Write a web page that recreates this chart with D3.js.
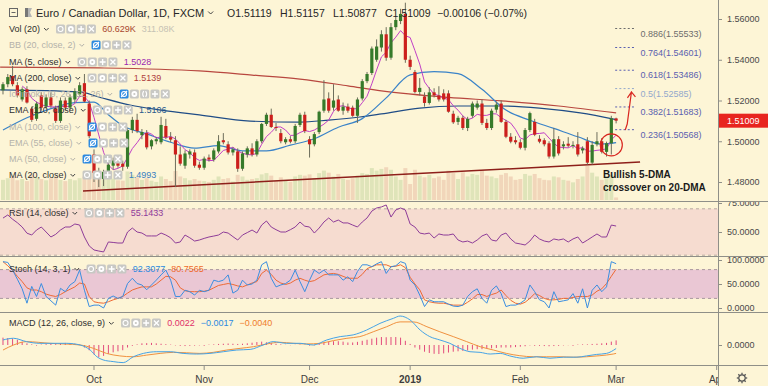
<!DOCTYPE html>
<html>
<head>
<meta charset="utf-8">
<script src="https://cdn.jsdelivr.net/npm/d3@7"></script>
<style>
  body { margin: 0; background: #fdf5d6; }
  svg { display: block; font-family: "Liberation Sans", Arial, sans-serif; }
</style>
</head>
<body>
<div id="chart"></div>
<script>
// ---- data (daily EUR/CAD, first bar 2018-09-04, weekdays only) ----
const startDate = "2018-09-04";

const opens = [1.5250,1.5280,1.5320,1.5275,1.5205,1.5255,1.5160,1.5110,1.5225,1.5170,
  1.5215,1.5160,1.5100,1.5200,1.5165,1.5205,1.5230,1.5285,1.5185,1.4935,
  1.4850,1.4815,1.4850,1.4880,1.4900,1.4890,1.4875,1.5055,1.5105,1.5030,
  1.5040,1.4975,1.5000,1.4995,1.5075,1.5020,1.5005,1.4935,1.4880,1.4935,
  1.4945,1.4885,1.4870,1.4920,1.4910,1.4950,1.5005,1.4985,1.4945,1.4950,
  1.4865,1.4935,1.4965,1.4935,1.5000,1.5085,1.5130,1.5070,1.5040,1.4995,
  1.5010,1.5000,1.5080,1.5130,1.5010,1.4985,1.5045,1.5150,1.5210,1.5165,
  1.5205,1.5150,1.5170,1.5165,1.5125,1.5210,1.5295,1.5335,1.5400,1.5460,
  1.5525,1.5410,1.5560,1.5590,1.5625,1.5400,1.5340,1.5242,1.5220,1.5188,
  1.5240,1.5225,1.5235,1.5235,1.5135,1.5095,1.5115,1.5065,1.5125,1.5165,
  1.5185,1.5090,1.5065,1.5155,1.5185,1.5095,1.5022,1.5005,1.4995,1.4968,
  1.5055,1.5095,1.5012,1.5005,1.4990,1.4925,1.5010,1.4975,1.4988,1.4978,
  1.4985,1.4955,1.5000,1.4895,1.4985,1.5000,1.4948,1.4990,1.51119];
const highs = [1.5290,1.5330,1.5370,1.5290,1.5265,1.5270,1.5170,1.5195,1.5240,1.5230,
  1.5240,1.5175,1.5215,1.5215,1.5230,1.5260,1.5290,1.5330,1.5200,1.4960,
  1.4870,1.4860,1.4900,1.4920,1.4920,1.4905,1.5065,1.5120,1.5135,1.5060,
  1.5055,1.5010,1.5020,1.5120,1.5110,1.5045,1.5025,1.4975,1.4955,1.4960,
  1.4960,1.4900,1.4925,1.4935,1.4965,1.5030,1.5040,1.5000,1.4970,1.4965,
  1.4950,1.4975,1.4990,1.5010,1.5090,1.5140,1.5160,1.5090,1.5060,1.5020,
  1.5025,1.5085,1.5140,1.5145,1.5025,1.5045,1.5150,1.5300,1.5240,1.5280,
  1.5225,1.5190,1.5185,1.5175,1.5215,1.5305,1.5340,1.5465,1.5500,1.5545,
  1.5560,1.5580,1.5610,1.5650,1.5680,1.5420,1.5350,1.5310,1.5240,1.5265,
  1.5260,1.5270,1.5255,1.5250,1.5150,1.5125,1.5125,1.5120,1.5195,1.5200,
  1.5205,1.5110,1.5160,1.5195,1.5200,1.5105,1.5040,1.5025,1.5010,1.5065,
  1.5145,1.5110,1.5030,1.5015,1.5000,1.5065,1.5025,1.5000,1.5020,1.5000,
  1.5045,1.4975,1.5020,1.5000,1.5045,1.5015,1.4998,1.5125,1.51157];
const lows = [1.5230,1.5265,1.5270,1.5215,1.5195,1.5185,1.5095,1.5100,1.5150,1.5160,
  1.5165,1.5090,1.5090,1.5150,1.5155,1.5190,1.5220,1.5190,1.5015,1.4800,
  1.4775,1.4780,1.4830,1.4860,1.4870,1.4855,1.4865,1.5040,1.5040,1.5010,
  1.4960,1.4960,1.4985,1.4985,1.5010,1.4995,1.4775,1.4880,1.4865,1.4915,
  1.4870,1.4860,1.4860,1.4900,1.4900,1.4940,1.4985,1.4935,1.4930,1.4850,
  1.4855,1.4920,1.4925,1.4925,1.4990,1.5075,1.5065,1.5050,1.4990,1.4985,
  1.4990,1.4990,1.5070,1.5040,1.4920,1.4975,1.5035,1.5140,1.5140,1.5150,
  1.5145,1.5130,1.5140,1.5120,1.5090,1.5200,1.5285,1.5325,1.5390,1.5440,
  1.5395,1.5400,1.5545,1.5575,1.5385,1.5350,1.5235,1.5225,1.5170,1.5180,
  1.5215,1.5195,1.5195,1.5140,1.5085,1.5080,1.5055,1.5050,1.5115,1.5155,
  1.5080,1.5055,1.5055,1.5140,1.5090,1.5015,1.4990,1.4985,1.4960,1.4955,
  1.5045,1.5025,1.4990,1.4975,1.4915,1.4915,1.4930,1.4960,1.4970,1.4965,
  1.4925,1.4940,1.4885,1.4885,1.4975,1.4940,1.4925,1.4935,1.50877];
const closes = [1.5280,1.5315,1.5280,1.5225,1.5255,1.5190,1.5105,1.5185,1.5165,1.5215,
  1.5175,1.5100,1.5200,1.5165,1.5215,1.5245,1.5275,1.5195,1.5025,1.4845,
  1.4815,1.4850,1.4885,1.4905,1.4880,1.4875,1.5055,1.5105,1.5050,1.5045,
  1.4970,1.5005,1.5010,1.5080,1.5020,1.5008,1.4935,1.4890,1.4940,1.4950,
  1.4880,1.4870,1.4915,1.4910,1.4955,1.5000,1.4995,1.4945,1.4960,1.4865,
  1.4940,1.4965,1.4935,1.5000,1.5085,1.5130,1.5070,1.5065,1.5000,1.5010,
  1.4998,1.5075,1.5130,1.5050,1.4985,1.5035,1.5145,1.5205,1.5150,1.5200,
  1.5150,1.5170,1.5150,1.5125,1.5205,1.5295,1.5330,1.5455,1.5465,1.5525,
  1.5410,1.5560,1.5595,1.5625,1.5400,1.5365,1.5242,1.5262,1.5188,1.5240,
  1.5225,1.5205,1.5205,1.5145,1.5093,1.5115,1.5065,1.5110,1.5185,1.5185,
  1.5090,1.5065,1.5150,1.5180,1.5095,1.5022,1.4998,1.4995,1.4968,1.5055,
  1.5138,1.5032,1.4998,1.4985,1.4925,1.5010,1.4940,1.4985,1.4978,1.4982,
  1.4935,1.4965,1.4895,1.4982,1.5000,1.4948,1.4990,1.5112,1.51009];
const volumes = [480,520,560,470,500,450,610,540,500,470,
  520,560,480,450,500,470,520,560,620,700,
  640,600,560,510,470,460,680,600,540,480,
  520,460,430,560,500,450,690,560,520,470,
  500,460,450,430,480,560,500,520,440,600,
  560,480,500,520,610,640,580,460,540,470,
  430,560,600,580,610,520,640,700,650,560,
  620,500,480,520,580,640,620,760,700,740,
  780,720,560,480,760,380,720,580,540,600,
  520,560,480,700,640,500,660,560,620,600,
  700,580,560,520,600,640,560,480,500,620,
  580,620,520,480,470,560,540,480,460,420,
  500,560,820,650,560,480,520,600,60.629];

// moving averages: [bar index, price]
const ma20Pts = [[0,1.5055],[5,1.5115],[10,1.5160],[15,1.5190],[19,1.5192],[22,1.5130],[25,1.5076],
  [30,1.5036],[35,1.4995],[40,1.4966],[45,1.4979],[50,1.4953],[55,1.4953],[60,1.4981],[65,1.5012],
  [70,1.5069],[75,1.5111],[80,1.5213],[85,1.5326],[90,1.5342],[95,1.5332],[100,1.5255],[105,1.5153],
  [110,1.5103],[115,1.5063],[120,1.5022],[125,1.4986],[128,1.4993]];
const ema110Pts = [[-0.6,1.5252],[16,1.5242],[20,1.5217],[26.5,1.5178],[33,1.5153],[41,1.5129],
  [51.6,1.5099],[62,1.5094],[68,1.5104],[74.5,1.5119],[79,1.5134],[87,1.5163],[95,1.5173],
  [104,1.5173],[112,1.5163],[120.5,1.5139],[128,1.5106]];
const ma200Pts = [[-0.6,1.5364],[20,1.5360],[41,1.5345],[52,1.5325],[62,1.5305],[72,1.5272],
  [79,1.5247],[93,1.5215],[104,1.5198],[116,1.5173],[128,1.5139]];

const rsi = [62,64.7,61,58,54.3,49,47.4,51.7,54.3,50,
  45.7,48,51.7,54.3,54.3,56.9,56,45.7,38,34.5,
  33.6,32.8,41.4,41,40.5,40.5,50,53.4,50,49.1,
  46.6,46.6,46.6,49.1,47.4,45,40.5,41.4,47.4,45,
  42.2,43.1,44.5,45.7,46.5,47.4,50,49.1,46,43.1,
  47.4,49.5,51.7,49.1,56,59.5,54.3,52,50,50,
  52,54.3,58.6,55,54.3,49.1,53.4,58.6,62.1,58.6,
  60.3,57.8,57.8,56,54.3,58.6,62.1,68,70.7,71.6,
  73.3,62.9,69,70.7,69,56.9,54.3,49.1,48.3,49.1,
  44.8,48.3,47.4,47.4,48.3,43.1,41.4,42.2,40.5,43.1,
  46.6,48.3,43.1,42.2,47.4,49.1,44,40.5,39.7,38.8,
  42.2,47.4,44,42.2,41.4,44,43.1,44,41.4,44,
  45.7,40.5,43,45.7,48.3,45.7,45.7,56,55.1433];
const stochK = [96.5,95,79,60,40,10,45,24,51,24,
  15,6,41,34,48,55,79,37,3,6,
  6,0,20,25,20,24,51,62,51,48,
  38,48,58,69,79,58,24,24,37,34,
  27,37,34,37,58,55,58,69,31,37,
  58,48,50,58,90,96.5,62,44,48,51,
  58,79,55,34,58,79,72,79,69,69,
  69,58,65,55,76,90,90,86,92,96.5,
  72,86,88,96.5,93,58,48,27,3,17,
  13,13,13,8,4,3,6,24,34,40,
  20,10,37,46,30,3,6,6,10,17,
  48,34,17,13,0,34,13,15,17,30,
  10,40,0,37,48,34,44,96.5,92.3077];
const stochD = [96.5,88,78,66,55,42,37.5,37.5,34,29,
  26,24,28,34,39,44,52,50,24,13,
  11,10,13,17,20,24,31,37.5,41,44,
  44,44,50,58,66,65,58,42,36,34,
  34,34,35,37,42,47,49,51,49,46,
  44,48,52,55,72,79,70,58,52,49,
  52,58,62,58,55,57,63,69,71,72,
  70,66,62,62,62,70,82,86,90,90,
  90,86,87,90,84,64,50,38,17,13,
  11,10,10,8,6,6,6,12,19,28,
  28,24,28,31,37.5,26,16,10,8,12,
  20,30,26,20,17,17,18,20,20,22,
  24,24,24,27,35,40,51,66,80.7565];
const macdPts = [[0,0.0024],[2.2,0.0032],[4.9,0.0016],[7.7,0.0008],[13.3,0.0008],[16.1,0],[18.2,-0.0024],
  [19.6,-0.0056],[20.9,-0.0071],[23,-0.0079],[25.1,-0.0084],[27.2,-0.0056],[29.3,-0.004],[32.1,-0.0032],
  [34.9,-0.0032],[37.6,-0.004],[40.4,-0.0043],[43.2,-0.004],[46,-0.0032],[48.8,-0.0024],[51.6,-0.0021],
  [54.3,0],[56.4,0.0016],[59.2,0.0008],[62,0.0008],[64.8,0],[67.6,0.0024],[70.4,0.004],[73.1,0.0048],
  [75.9,0.0071],[78.7,0.0103],[81.5,0.0127],[82.9,0.0138],[85,0.0119],[87.1,0.0071],[89.1,0.004],
  [91.2,0.0024],[93.3,0.0008],[95.4,-0.0016],[97.5,-0.0032],[99.6,-0.0035],[101.7,-0.0043],[103.8,-0.004],
  [105.8,-0.0052],[108.6,-0.0063],[111.4,-0.0056],[114.2,-0.0063],[117,-0.0058],[119.8,-0.0058],
  [121.8,-0.0052],[123.9,-0.0045],[126,-0.004],[128,-0.0017]];
const signalPts = [[0,-0.0024],[2.2,0],[4.9,0.0016],[9.8,0.0008],[16.1,0],[18.9,-0.0016],[21.6,-0.004],
  [24.4,-0.0052],[27.2,-0.0056],[30,-0.0048],[32.8,-0.004],[35.6,-0.0035],[38.3,-0.0037],[41.1,-0.004],
  [43.9,-0.0035],[46.7,-0.0024],[49.5,-0.0016],[52.3,-0.0008],[55.1,0.0005],[57.8,0.0013],[60.6,0.0008],
  [63.4,0.0005],[66.2,0.0008],[69,0.0021],[71.8,0.0032],[74.5,0.004],[77.3,0.0063],[80.1,0.0087],
  [82.9,0.011],[85.7,0.011],[88.5,0.0087],[91.2,0.0063],[94,0.004],[96.8,0.0016],[99.6,-0.0008],
  [102.4,-0.0024],[105.1,-0.004],[107.9,-0.0051],[110.7,-0.0056],[113.5,-0.0056],[116.3,-0.0056],
  [119.1,-0.0058],[121.8,-0.0056],[124.6,-0.0051],[127.4,-0.0043],[128,-0.004]];
const macdHist = [0.0035,0.0033,0.003,0.0025,0.0015,0.0008,0.0003,-0.0003,0.0002,0.0004,
  0.0006,0.0004,0.0008,0.001,0.0009,0.0006,0.0002,-0.0012,-0.0025,-0.0045,
  -0.0057,-0.0052,-0.0042,-0.0035,-0.003,-0.0025,-0.0012,-0.0004,0.0003,0.0008,
  0.0009,0.001,0.0008,0.0006,0.0004,0.0002,-0.0002,-0.0004,-0.0005,-0.0004,
  -0.0003,-0.0002,0,0.0002,0.0003,0.0005,0.0006,0.0007,0.0006,0.0005,
  0.0006,0.0008,0.0011,0.0014,0.0016,0.0013,0.001,0.0006,0.0003,0.0001,
  -0.0001,0.0001,0.0002,0.0001,-0.0003,-0.0002,0.0006,0.0012,0.0016,0.0018,
  0.0018,0.0016,0.0012,0.0012,0.0015,0.002,0.0025,0.003,0.0035,0.0038,
  0.0037,0.0038,0.0038,0.0035,0.002,0.0005,-0.0012,-0.0022,-0.0032,-0.0038,
  -0.0042,-0.0043,-0.004,-0.0036,-0.0032,-0.003,-0.0028,-0.0026,-0.0022,-0.002,
  -0.002,-0.0018,-0.0016,-0.0014,-0.0012,-0.0012,-0.0012,-0.001,-0.0008,-0.0006,
  -0.0002,0,-0.0004,-0.0005,-0.0006,-0.0005,-0.0004,-0.0002,-0.0001,0,
  0.0002,0.0003,0.0003,0.0005,0.0006,0.0008,0.001,0.0016,0.0022];

// fibonacci extension levels
const fibRatios = ["0.236","0.382","0.5","0.618","0.764","0.886"];
const fibPrices = [1.50568,1.51683,1.52585,1.53486,1.54601,1.55533];
// support line and annotation anchors [bar index, price]
const trendLine = [[16.7,1.4756],[133,1.4898]];
const circleAt = [127,1.4982];
const arrowFromTo = [[129.9,1.5055],[131.2,1.5242]];

// axis labels
const priceTicks = [1.48,1.50,1.52,1.54,1.56];
const monthLabels = ["Oct","Nov","Dec","2019","Feb","Mar","Apr"];
const monthDates = ["2018-10-01","2018-11-01","2018-12-01","2019-01-01","2019-02-01","2019-03-01","2019-04-01"];

// ---- helpers ----
function barIndex(dateStr) {
  let d = new Date(startDate + "T00:00:00Z"), end = new Date(dateStr + "T00:00:00Z"), n = 0;
  while (d < end) { const wd = d.getUTCDay(); if (wd !== 0 && wd !== 6) n++; d.setUTCDate(d.getUTCDate() + 1); }
  return n;
}

const W = 768, H = 386, R = 718;
const x = d3.scaleLinear().domain([-0.626, 149.27]).range([0, R]);
const y = d3.scaleLinear().domain([1.48, 1.56]).range([182, 19]);
const yVol = d3.scaleLinear().domain([0, 1000]).range([200, 158]);
const yRsi = d3.scaleLinear().domain([30, 75]).range([255.2, 203]);
const ySto = d3.scaleLinear().domain([0, 100]).range([308, 260]);
const yMacd = d3.scaleLinear().domain([-0.01, 0.01]).range([366, 324]);

const svg = d3.select("#chart").append("svg").attr("width", W).attr("height", H);
svg.append("rect").attr("width", W).attr("height", H).attr("fill", "#fdf5d6");

const defs = svg.append("defs");
function clip(id, x0, y0, w, h) {
  defs.append("clipPath").attr("id", id).append("rect").attr("x", x0).attr("y", y0).attr("width", w).attr("height", h);
}
clip("cMain", 0, 0, R, 201);
clip("cRsi", 0, 202, R, 54);
clip("cSto", 0, 257, R, 55);
clip("cMacd", 0, 313, R, 52);
clip("cTime", 0, 366, R, 20);
clip("aMain", 0, 0, 50, 201);
clip("aRsi", 0, 202, 50, 54);
clip("aSto", 0, 257, 50, 55);
clip("aMacd", 0, 313, 50, 52);

const bars = closes.map((c, i) => ({ i, o: opens[i], h: highs[i], l: lows[i], c, v: volumes[i] }));

// ---- main pane ----
const main = svg.append("g").attr("clip-path", "url(#cMain)");

main.selectAll(".vol").data(bars).join("rect")
  .attr("x", d => x(d.i) - 2).attr("width", 4)
  .attr("y", d => yVol(d.v)).attr("height", d => yVol(0) - yVol(d.v))
  .attr("fill", d => d.c >= d.o ? "#dfe4b9" : "#f1d6ba");

main.append("line")
  .attr("x1", x(trendLine[0][0])).attr("y1", y(trendLine[0][1]))
  .attr("x2", x(trendLine[1][0])).attr("y2", y(trendLine[1][1]))
  .attr("stroke", "#8e1f1a").attr("stroke-width", 1.5);

const smooth = d3.line().x(d => x(d[0])).curve(d3.curveMonotoneX);
main.append("path").datum(ma200Pts).attr("d", smooth.y(d => y(d[1])))
  .attr("fill", "none").attr("stroke", "#b8473f").attr("stroke-width", 1.2);
main.append("path").datum(ema110Pts).attr("d", smooth.y(d => y(d[1])))
  .attr("fill", "none").attr("stroke", "#1f4c86").attr("stroke-width", 1.2);
main.append("path").datum(ma20Pts).attr("d", smooth.y(d => y(d[1])))
  .attr("fill", "none").attr("stroke", "#3a83c8").attr("stroke-width", 1.2);

// 5-day average of the closes
const ma5 = closes.map((c, i) => i < 4 ? null : d3.mean(closes.slice(i - 4, i + 1)));
main.append("path").datum(ma5)
  .attr("d", d3.line().defined(d => d != null).x((d, i) => x(i)).y(d => y(d)))
  .attr("fill", "none").attr("stroke", "#c13fc6").attr("stroke-width", 1);

main.selectAll(".wick").data(bars).join("line")
  .attr("x1", d => x(d.i)).attr("x2", d => x(d.i))
  .attr("y1", d => y(d.h)).attr("y2", d => y(d.l))
  .attr("stroke", "#6e6e5c").attr("stroke-width", 1);
main.selectAll(".body").data(bars).join("rect")
  .attr("x", d => x(d.i) - 1.6).attr("width", 3.2)
  .attr("y", d => y(Math.max(d.o, d.c)))
  .attr("height", d => Math.max(1, Math.abs(y(d.o) - y(d.c))))
  .attr("fill", d => d.c >= d.o ? "#367a2a" : "#cc1f1c");

// fibonacci levels
fibPrices.forEach((p, k) => {
  const col = fibRatios[k] === "0.886" ? "#6d6d6d" : fibRatios[k] === "0.5" ? "#93a8cc" : "#5a5fb0";
  main.append("line").attr("x1", x(127.8)).attr("x2", x(131.8)).attr("y1", y(p)).attr("y2", y(p))
    .attr("stroke", col).attr("stroke-dasharray", "2,2.2").attr("stroke-width", 1);
  main.append("text").attr("x", x(133.1)).attr("y", y(p) + 8)
    .attr("fill", col).style("font-size", "9px")
    .text(`${fibRatios[k]}(${p.toFixed(5)})`);
});

// annotations
main.append("circle").attr("cx", x(circleAt[0])).attr("cy", y(circleAt[1])).attr("r", 11)
  .attr("fill", "none").attr("stroke", "#d9261f").attr("stroke-width", 1.2);
const a0 = [x(arrowFromTo[0][0]), y(arrowFromTo[0][1])], a1 = [x(arrowFromTo[1][0]), y(arrowFromTo[1][1])];
main.append("path")
  .attr("d", `M${a0[0]},${a0[1]} L${a0[0] + 2},${a0[1] - 6} L${a1[0]},${a1[1]} M${a1[0] - 4},${a1[1] + 6} L${a1[0]},${a1[1]} L${a1[0] + 4},${a1[1] + 5}`)
  .attr("fill", "none").attr("stroke", "#d9261f").attr("stroke-width", 1.2);
main.append("text").attr("x", 603).attr("y", 178).attr("fill", "#1a1a1a")
  .style("font-size", "10px").style("font-weight", "bold").text("Bullish 5-DMA");
main.append("text").attr("x", 603).attr("y", 191).attr("fill", "#1a1a1a")
  .style("font-size", "10px").style("font-weight", "bold").text("crossover on 20-DMA");

// ---- RSI pane ----
const rp = svg.append("g").attr("clip-path", "url(#cRsi)");
rp.append("rect").attr("x", 0).attr("width", R).attr("y", yRsi(70)).attr("height", yRsi(30) - yRsi(70)).attr("fill", "#f6dcd0");
[70, 30].forEach(v => rp.append("line").attr("x1", 0).attr("x2", R).attr("y1", yRsi(v)).attr("y2", yRsi(v))
  .attr("stroke", "#b8aaa2").attr("stroke-dasharray", "3,3"));
rp.append("path").datum(rsi).attr("d", d3.line().x((d, i) => x(i)).y(d => yRsi(d)))
  .attr("fill", "none").attr("stroke", "#8e3c98").attr("stroke-width", 1);

// ---- Stoch pane ----
const sp = svg.append("g").attr("clip-path", "url(#cSto)");
sp.append("rect").attr("x", 0).attr("width", R).attr("y", ySto(80)).attr("height", ySto(20) - ySto(80)).attr("fill", "#eac7d4");
[80, 20].forEach(v => sp.append("line").attr("x1", 0).attr("x2", R).attr("y1", ySto(v)).attr("y2", ySto(v))
  .attr("stroke", "#a8989e").attr("stroke-dasharray", "3,3"));
sp.append("path").datum(stochD).attr("d", d3.line().x((d, i) => x(i)).y(d => ySto(d)))
  .attr("fill", "none").attr("stroke", "#ee6a35").attr("stroke-width", 1);
sp.append("path").datum(stochK).attr("d", d3.line().x((d, i) => x(i)).y(d => ySto(d)))
  .attr("fill", "none").attr("stroke", "#3b8ee0").attr("stroke-width", 1);

// ---- MACD pane ----
const mp = svg.append("g").attr("clip-path", "url(#cMacd)");
mp.selectAll(".h").data(macdHist).join("line")
  .attr("x1", (d, i) => x(i)).attr("x2", (d, i) => x(i))
  .attr("y1", yMacd(0)).attr("y2", d => yMacd(d) + (d === 0 ? 0.8 : 0))
  .attr("stroke", "#e24a7c").attr("stroke-width", 1);
mp.append("path").datum(signalPts).attr("d", d3.line().x(d => x(d[0])).y(d => yMacd(d[1])).curve(d3.curveMonotoneX))
  .attr("fill", "none").attr("stroke", "#f0913f").attr("stroke-width", 1);
mp.append("path").datum(macdPts).attr("d", d3.line().x(d => x(d[0])).y(d => yMacd(d[1])).curve(d3.curveMonotoneX))
  .attr("fill", "none").attr("stroke", "#45a3e6").attr("stroke-width", 1);

// ---- separators ----
[201.5, 256.5, 312.5, 365.5].forEach(yy => svg.append("line").attr("x1", 0).attr("x2", W).attr("y1", yy).attr("y2", yy)
  .attr("stroke", "#8f8f88").attr("stroke-width", 1));
svg.append("line").attr("x1", R + 0.5).attr("x2", R + 0.5).attr("y1", 0).attr("y2", H).attr("stroke", "#8f8f88");

// ---- right axes ----
function rightAxis(scale, vals, fmt, clipId) {
  const g = svg.append("g").attr("transform", `translate(${R},0)`).attr("clip-path", `url(#${clipId})`)
    .call(d3.axisRight(scale).tickValues(vals).tickFormat(fmt).tickSize(4).tickPadding(5));
  g.select(".domain").remove();
  g.selectAll("line").attr("stroke", "#8f8f88");
  g.selectAll("text").attr("fill", "#4a4a4a").style("font-size", "9px").style("font-family", "Liberation Sans, Arial, sans-serif");
}
rightAxis(y, priceTicks, d3.format(".5f"), "aMain");
rightAxis(yRsi, [50, 75], d3.format(".4f"), "aRsi");
rightAxis(ySto, [0, 50, 100], d3.format(".4f"), "aSto");
rightAxis(yMacd, [0], d3.format(".4f"), "aMacd");

// last price tag
const last = closes[closes.length - 1];
svg.append("rect").attr("x", R + 1).attr("y", y(last) - 7).attr("width", W - R - 1).attr("height", 14).attr("fill", "#e8251f");
svg.append("text").attr("x", R + 9).attr("y", y(last) + 3.5).attr("fill", "#fff").style("font-size", "9px").text(last.toFixed(5));

// ---- time axis ----
const tg = svg.append("g").attr("clip-path", "url(#cTime)");
monthLabels.forEach((lab, k) => {
  const xi = x(barIndex(monthDates[k]));
  tg.append("line").attr("x1", xi).attr("x2", xi).attr("y1", 366).attr("y2", 370).attr("stroke", "#8f8f88");
  tg.append("text").attr("x", xi).attr("y", 383).attr("text-anchor", "middle")
    .attr("fill", "#3d3d3d").style("font-size", "10px").style("font-weight", lab === "2019" ? "bold" : "normal").text(lab);
});

// gear icon
const gear = svg.append("g").attr("transform", "translate(742,378)").attr("stroke", "#555").attr("fill", "none");
gear.append("circle").attr("r", 3.2).attr("stroke-width", 1.2);
d3.range(8).forEach(k => {
  const a = k * Math.PI / 4;
  gear.append("line").attr("x1", Math.cos(a) * 3.2).attr("y1", Math.sin(a) * 3.2)
    .attr("x2", Math.cos(a) * 5.2).attr("y2", Math.sin(a) * 5.2).attr("stroke-width", 1.3);
});

// ---- legends ----
const lg = svg.append("g");
function icon(kind, ix, yc, blue) {
  lg.append("rect").attr("x", ix).attr("y", yc - 4.5).attr("width", 9).attr("height", 9).attr("rx", 1.5)
    .attr("fill", blue ? "#2d8ae0" : "#c8c8c4");
  const s = lg.append("g").attr("stroke", "#fff").attr("fill", "none").attr("stroke-width", 1.1);
  const cx = ix + 4.5;
  if (kind === "eye") {
    s.append("circle").attr("cx", cx).attr("cy", yc).attr("r", 2.5);
    if (blue) s.append("line").attr("x1", cx - 3).attr("y1", yc + 3).attr("x2", cx + 3).attr("y2", yc - 3);
  } else if (kind === "gear") {
    s.append("circle").attr("cx", cx).attr("cy", yc).attr("r", 2).attr("stroke-width", 1.8);
  } else if (kind === "plus") {
    s.append("path").attr("d", `M${cx - 3},${yc} h6 M${cx},${yc - 3} v6`).attr("stroke-width", 1.4);
  } else if (kind === "x") {
    s.append("path").attr("d", `M${cx - 2.5},${yc - 2.5} l5,5 M${cx + 2.5},${yc - 2.5} l-5,5`).attr("stroke-width", 1.3);
  } else if (kind === "par") {
    s.append("path").attr("d", `M${cx - 1},${yc - 3} q-2,3 0,6 M${cx + 1},${yc - 3} q2,3 0,6`);
  }
}
function legendRow(r) {
  const t = lg.append("text").attr("x", 9).attr("y", r.y + 3.2).attr("fill", r.dim ? "#b4b2aa" : "#2e2e2e")
    .style("font-size", "9px").text(r.t);
  const end = 9 + t.node().getComputedTextLength();
  lg.append("path").attr("d", `M${end + 4},${r.y - 1} l2.3,2.3 l2.3,-2.3`)
    .attr("fill", "none").attr("stroke", r.dim ? "#b4b2aa" : "#444").attr("stroke-width", 1);
  const kinds = r.ic || ["eye", "gear", "plus", "x"];
  let ix = end + 16;
  kinds.forEach((k, j) => icon(k, ix + j * 10.3, r.y, r.dim && j === 0));
  let vx = ix + kinds.length * 10.3 + 5;
  (r.vals || []).forEach(([txt, col]) => {
    const vt = lg.append("text").attr("x", vx).attr("y", r.y + 3.2).attr("fill", col).style("font-size", "9px").text(txt);
    vx += vt.node().getComputedTextLength() + 6;
  });
}
[
  { t: "Vol (20)", y: 29, vals: [["60.629K", "#a9472f"], ["311.08K", "#c6c2b4"]] },
  { t: "BB (20, close, 2)", y: 45, dim: true },
  { t: "MA (5, close)", y: 62, vals: [["1.5028", "#9c27b0"]] },
  { t: "MA (200, close)", y: 78, vals: [["1.5139", "#b0413e"]] },
  { t: "Ichimoku (9, 26, 52, 26)", y: 94, dim: true, ic: ["eye", "gear", "par", "plus", "x"] },
  { t: "EMA (110, close)", y: 110, vals: [["1.5106", "#2a5a8c"]] },
  { t: "MA (100, close)", y: 127, dim: true },
  { t: "EMA (55, close)", y: 143, dim: true },
  { t: "MA (50, close)", y: 159, dim: true },
  { t: "MA (20, close)", y: 175, vals: [["1.4993", "#3a80c0"]] },
  { t: "RSI (14, close)", y: 213, vals: [["55.1433", "#8e3a9a"]] },
  { t: "Stoch (14, 3, 1)", y: 269, vals: [["92.3077", "#2a8ae0"], ["80.7565", "#ef6c2c"]] },
  { t: "MACD (12, 26, close, 9)", y: 323, vals: [["0.0022", "#e0306a"], ["\u22120.0017", "#2a8ae0"], ["\u22120.0040", "#ef7d2c"]] }
].forEach(legendRow);

// title row
lg.append("rect").attr("x", 9.5).attr("y", 8.5).attr("width", 8).attr("height", 8).attr("fill", "none").attr("stroke", "#666");
lg.append("line").attr("x1", 11.5).attr("x2", 15.5).attr("y1", 12.5).attr("y2", 12.5).attr("stroke", "#666");
lg.append("path").attr("d", "M25,8 h3 v9 h-3 z").attr("fill", "#777");
lg.append("path").attr("d", "M28,8 h4 l-2,4.5 l2,4.5 h-4 z").attr("fill", "#b5b5b5");
const title = lg.append("text").attr("x", 36).attr("y", 16.5).attr("fill", "#262626").style("font-size", "11px")
  .text("Euro / Canadian Dollar, 1D, FXCM");
const tEnd = 36 + title.node().getComputedTextLength();
lg.append("path").attr("d", `M${tEnd + 4},${11.5} l2.5,2.5 l2.5,-2.5`).attr("fill", "none").attr("stroke", "#444");
[["O1.51119", 227], ["H1.51157", 280], ["L1.50877", 333], ["C1.51009", 385], ["\u22120.00106 (\u22120.07%)", 437]]
  .forEach(([txt, xx]) => lg.append("text").attr("x", xx).attr("y", 16.5).attr("fill", "#262626").style("font-size", "10.5px").text(txt));
</script>
</body>
</html>
